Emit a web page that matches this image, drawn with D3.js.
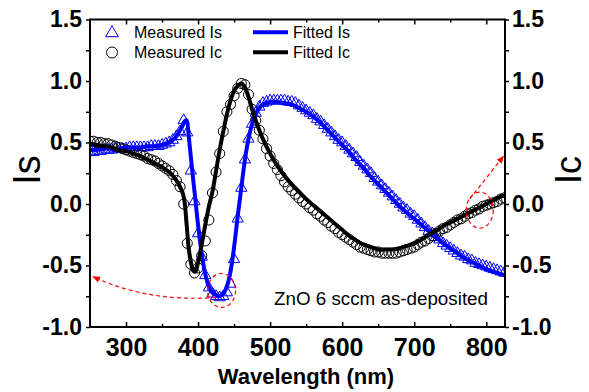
<!DOCTYPE html>
<html><head><meta charset="utf-8">
<script src="https://cdn.jsdelivr.net/npm/d3@7"></script>
<style>body{margin:0;background:#fff;} svg{display:block;font-family:Arial,"Liberation Sans",sans-serif;}</style>
</head><body><svg id="chart" width="589" height="392"></svg>
<script>
// ---- data ----
const measWl=[250,255,260,265,270,275,280,285,290,295,300,305,310,315,320,325,330,335,340,345,350,355,360,365,370,375,380,385,390,395,400,405,410,415,420,425,430,435,440,445,450,455,460,465,470,475,480,485,490,495,500,505,510,515,520,525,530,535,540,545,550,555,560,565,570,575,580,585,590,595,600,605,610,615,620,625,630,635,640,645,650,655,660,665,670,675,680,685,690,695,700,705,710,715,720,725,730,735,740,745,750,755,760,765,770,775,780,785,790,795,800,805,810,815,820,825];
const measIs=[0.42,0.42,0.43,0.43,0.44,0.44,0.44,0.45,0.45,0.45,0.45,0.46,0.46,0.46,0.46,0.46,0.46,0.47,0.47,0.47,0.48,0.49,0.50,0.52,0.55,0.59,0.68,0.58,0.27,0.02,-0.24,-0.43,-0.58,-0.68,-0.73,-0.75,-0.76,-0.75,-0.72,-0.65,-0.45,-0.12,0.13,0.36,0.53,0.65,0.74,0.79,0.82,0.83,0.84,0.84,0.84,0.84,0.84,0.83,0.83,0.82,0.80,0.78,0.76,0.74,0.72,0.69,0.67,0.64,0.61,0.58,0.55,0.52,0.50,0.47,0.44,0.41,0.38,0.34,0.31,0.28,0.25,0.21,0.18,0.15,0.12,0.09,0.06,0.03,0.00,-0.03,-0.05,-0.08,-0.10,-0.13,-0.16,-0.19,-0.22,-0.24,-0.27,-0.29,-0.32,-0.34,-0.36,-0.38,-0.40,-0.42,-0.43,-0.45,-0.46,-0.48,-0.49,-0.50,-0.51,-0.52,-0.53,-0.54,-0.55,-0.56];
const measIc=[0.51,0.51,0.50,0.50,0.49,0.49,0.48,0.47,0.46,0.45,0.44,0.43,0.42,0.41,0.40,0.39,0.37,0.36,0.35,0.33,0.31,0.29,0.27,0.24,0.19,0.14,0.00,-0.32,-0.49,-0.56,-0.52,-0.42,-0.30,-0.13,0.09,0.26,0.41,0.59,0.75,0.81,0.88,0.94,0.98,0.97,0.89,0.77,0.68,0.60,0.53,0.45,0.39,0.33,0.28,0.23,0.18,0.14,0.11,0.08,0.05,0.02,0.00,-0.03,-0.05,-0.08,-0.10,-0.13,-0.15,-0.18,-0.20,-0.23,-0.25,-0.27,-0.29,-0.31,-0.33,-0.35,-0.36,-0.37,-0.38,-0.39,-0.39,-0.40,-0.40,-0.40,-0.40,-0.40,-0.39,-0.38,-0.37,-0.36,-0.35,-0.33,-0.31,-0.30,-0.28,-0.26,-0.24,-0.22,-0.20,-0.19,-0.17,-0.15,-0.13,-0.12,-0.10,-0.08,-0.07,-0.05,-0.04,-0.02,-0.01,0.00,0.01,0.02,0.04,0.05];
const fitWl=[250,260,270,280,290,300,310,320,330,340,350,355,360,365,370,374,378,381,384,387,390,393,396,399,402,405,410,415,420,425,430,435,440,445,450,455,460,465,470,475,480,485,490,500,510,520,530,540,550,560,570,580,590,600,610,620,630,640,650,660,670,680,690,700,710,720,730,740,750,760,770,780,790,800,810,820,826];
const fitIs=[0.44,0.44,0.45,0.45,0.45,0.46,0.46,0.46,0.47,0.47,0.48,0.49,0.50,0.52,0.55,0.59,0.63,0.67,0.68,0.55,0.38,0.21,0.05,-0.12,-0.27,-0.40,-0.57,-0.67,-0.72,-0.74,-0.75,-0.73,-0.67,-0.55,-0.35,-0.10,0.13,0.36,0.53,0.65,0.73,0.78,0.81,0.83,0.83,0.82,0.81,0.78,0.75,0.71,0.66,0.60,0.54,0.48,0.42,0.35,0.29,0.22,0.16,0.10,0.04,-0.02,-0.07,-0.12,-0.17,-0.22,-0.27,-0.32,-0.36,-0.40,-0.44,-0.47,-0.50,-0.53,-0.55,-0.57,-0.58];
const fitIc=[0.49,0.48,0.47,0.46,0.44,0.43,0.41,0.39,0.36,0.33,0.30,0.28,0.26,0.23,0.19,0.15,0.10,0.03,-0.16,-0.36,-0.47,-0.54,-0.55,-0.50,-0.42,-0.33,-0.17,-0.02,0.10,0.27,0.44,0.59,0.73,0.84,0.92,0.96,0.98,0.95,0.87,0.77,0.68,0.60,0.53,0.41,0.31,0.23,0.16,0.10,0.04,-0.01,-0.06,-0.11,-0.16,-0.21,-0.26,-0.30,-0.33,-0.35,-0.37,-0.37,-0.37,-0.36,-0.34,-0.32,-0.29,-0.25,-0.22,-0.18,-0.15,-0.12,-0.09,-0.06,-0.03,0.00,0.03,0.06,0.07];
const xTicks=[300,400,500,600,700,800];
const xMinor=[350,450,550,650,750];
const yTicks=[-1.0,-0.5,0.0,0.5,1.0,1.5];
const yMinor=[-0.75,-0.25,0.25,0.75,1.25];
const legendLabels=["Measured Is","Measured Ic","Fitted Is","Fitted Ic"];
const noteText="ZnO 6 sccm as-deposited";

// ---- layout ----
const L=90,R=505,T=19.5,B=327;
const BLUE="#0000ff";
const svg=d3.select("#chart");
const x=d3.scaleLinear().domain([250,826]).range([L,R]);
const y=d3.scaleLinear().domain([-1,1.5]).range([B,T]);

svg.append("defs").append("clipPath").attr("id","clip")
  .append("rect").attr("x",L).attr("y",T).attr("width",R-L).attr("height",B-T);
const mk=svg.select("defs").append("marker").attr("id","arr").attr("viewBox","0 0 10 10")
  .attr("refX",9).attr("refY",5).attr("markerWidth",8).attr("markerHeight",8)
  .attr("markerUnits","userSpaceOnUse").attr("orient","auto");
mk.append("path").attr("d","M0,1 L10,5 L0,9 Z").attr("fill","#ff0000");

const plot=svg.append("g").attr("clip-path","url(#clip)");
const meas=measWl.map((w,i)=>({w,is:measIs[i],ic:measIc[i]}));
const fit=fitWl.map((w,i)=>({w,is:fitIs[i],ic:fitIc[i]}));
const tri=d3.symbol().type(d3.symbolTriangle).size(55);
const cir=d3.symbol().type(d3.symbolCircle).size(80);

plot.selectAll(".mis").data(meas).join("path")
  .attr("d",tri).attr("transform",d=>`translate(${x(d.w)},${y(d.is)})`)
  .attr("fill","none").attr("stroke",BLUE).attr("stroke-width",1);
plot.selectAll(".mic").data(meas).join("path")
  .attr("d",cir).attr("transform",d=>`translate(${x(d.w)},${y(d.ic)})`)
  .attr("fill","none").attr("stroke","#000").attr("stroke-width",1);
const lineIs=d3.line().x(d=>x(d.w)).y(d=>y(d.is)).curve(d3.curveCatmullRom.alpha(0.5));
const lineIc=d3.line().x(d=>x(d.w)).y(d=>y(d.ic)).curve(d3.curveCatmullRom.alpha(0.5));
plot.append("path").attr("d",lineIs(fit)).attr("fill","none").attr("stroke",BLUE).attr("stroke-width",4).attr("stroke-linejoin","round");
plot.append("path").attr("d",lineIc(fit)).attr("fill","none").attr("stroke","#000").attr("stroke-width",4).attr("stroke-linejoin","round");

// ---- red dashed annotations ----
const red=svg.append("g").attr("fill","none").attr("stroke","#ff0000").attr("stroke-width",1.2).attr("stroke-dasharray","4,3");
red.append("ellipse").attr("cx",x(432.6)).attr("cy",y(-0.703)).attr("rx",14).attr("ry",17);
red.append("path").attr("d",`M${x(425)},${y(-0.76)} Q${x(330)},${y(-0.80)} ${x(254)},${y(-0.59)}`).attr("marker-end","url(#arr)");
red.append("ellipse").attr("cx",x(791)).attr("cy",y(-0.05)).attr("rx",13.5).attr("ry",18);
red.append("path").attr("d",`M${x(777)},${y(0.04)} L${x(824)},${y(0.39)}`).attr("marker-end","url(#arr)");

// ---- axes ----
const fmt=d=>d.toFixed(1);
function style(g,fs){g.select(".domain").remove();g.selectAll("line").attr("stroke","#000").attr("stroke-width",1.5);
  g.selectAll("text").attr("font-size",fs).attr("font-weight","bold").attr("fill","#000").attr("font-family","Arial,'Liberation Sans',sans-serif");}
svg.append("g").attr("transform",`translate(0,${B})`).call(d3.axisBottom(x).tickValues(xTicks).tickSize(-5).tickPadding(11).tickFormat(d3.format("d"))).call(g=>style(g,25));
svg.append("g").attr("transform",`translate(0,${B})`).call(d3.axisBottom(x).tickValues(xMinor).tickSize(-3).tickFormat("")).call(g=>style(g,25));
svg.append("g").attr("transform",`translate(0,${T})`).call(d3.axisTop(x).tickValues(xTicks).tickSize(-5).tickFormat("")).call(g=>style(g,25));
svg.append("g").attr("transform",`translate(0,${T})`).call(d3.axisTop(x).tickValues(xMinor).tickSize(-3).tickFormat("")).call(g=>style(g,25));
svg.append("g").attr("transform",`translate(${L},0)`).call(d3.axisLeft(y).tickValues(yTicks).tickSize(4).tickPadding(4).tickFormat(fmt)).call(g=>style(g,23));
svg.append("g").attr("transform",`translate(${L},0)`).call(d3.axisLeft(y).tickValues(yMinor).tickSize(4).tickFormat("")).call(g=>style(g,23));
svg.append("g").attr("transform",`translate(${R},0)`).call(d3.axisRight(y).tickValues(yTicks).tickSize(4).tickPadding(3).tickFormat(fmt)).call(g=>style(g,23));
svg.append("g").attr("transform",`translate(${R},0)`).call(d3.axisRight(y).tickValues(yMinor).tickSize(4).tickFormat("")).call(g=>style(g,23));
svg.append("rect").attr("x",L).attr("y",T).attr("width",R-L).attr("height",B-T).attr("fill","none").attr("stroke","#000").attr("stroke-width",2);

// ---- titles ----
svg.append("text").attr("x",306).attr("y",384).attr("text-anchor","middle").attr("font-size",22).attr("font-weight","bold").text("Wavelength (nm)");
svg.append("text").attr("transform","translate(40,170) rotate(-90)").attr("text-anchor","middle").attr("font-size",38).text("Is");
svg.append("text").attr("transform","translate(581,170) rotate(-90)").attr("text-anchor","middle").attr("font-size",36).text("Ic");

// ---- legend ----
const lg=svg.append("g").attr("font-size",16);
lg.append("path").attr("d",d3.symbol().type(d3.symbolTriangle).size(70)()).attr("transform","translate(112,33)").attr("fill","none").attr("stroke",BLUE);
lg.append("path").attr("d",d3.symbol().type(d3.symbolCircle).size(95)()).attr("transform","translate(112,52.5)").attr("fill","none").attr("stroke","#000");
lg.append("text").attr("x",134).attr("y",38).text(legendLabels[0]);
lg.append("text").attr("x",134).attr("y",58).text(legendLabels[1]);
lg.append("line").attr("x1",253).attr("x2",288).attr("y1",32.3).attr("y2",32.3).attr("stroke",BLUE).attr("stroke-width",4);
lg.append("line").attr("x1",253).attr("x2",288).attr("y1",52.3).attr("y2",52.3).attr("stroke","#000").attr("stroke-width",4);
lg.append("text").attr("x",293).attr("y",38).text(legendLabels[2]);
lg.append("text").attr("x",293).attr("y",58).text(legendLabels[3]);

svg.append("text").attr("x",274).attr("y",305).attr("font-size",18.8).text(noteText);
</script></body></html>
